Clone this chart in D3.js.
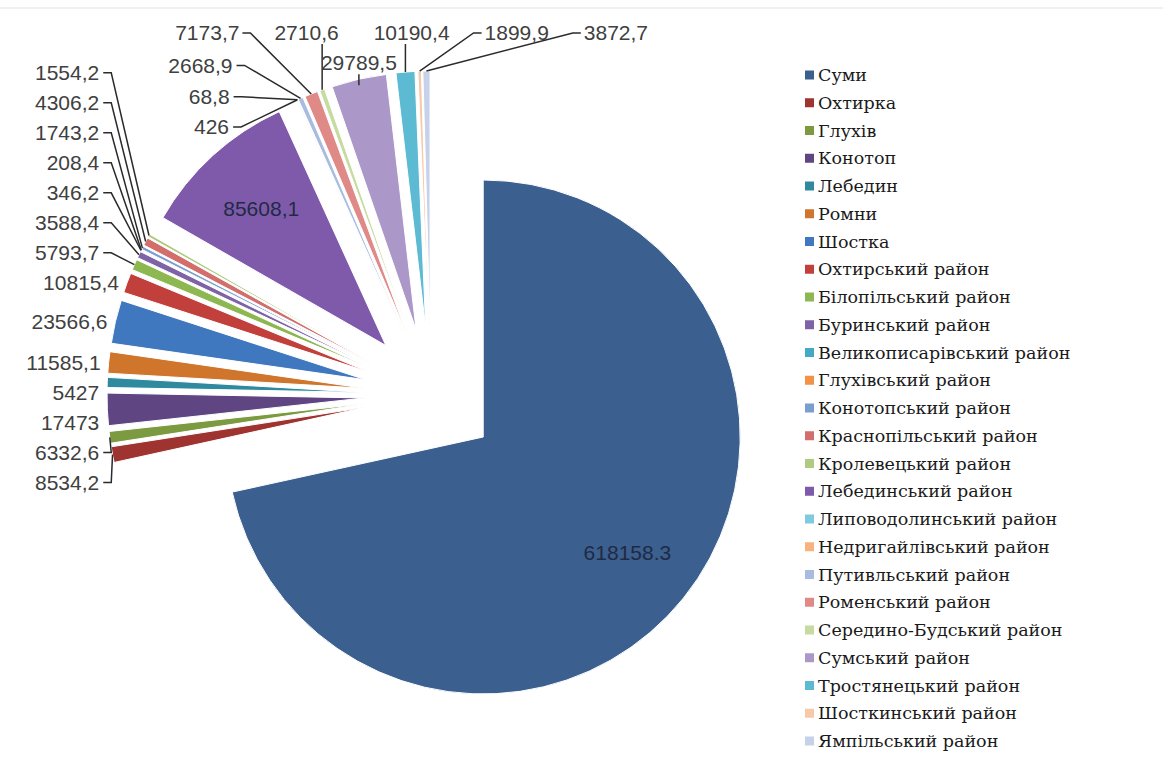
<!DOCTYPE html>
<html>
<head>
<meta charset="utf-8">
<script src="https://cdn.jsdelivr.net/npm/d3@7"></script>
<style>
  html, body { margin: 0; padding: 0; background: #fff; }
  svg { display: block; }
</style>
</head>
<body>
<div id="chart"></div>
<script>
/* global d3 */

const WIDTH = 1163
const HEIGHT = 780

// data
const categories = [
  'Суми', 'Охтирка', 'Глухів', 'Конотоп', 'Лебедин', 'Ромни', 'Шостка',
  'Охтирський район', 'Білопільський район', 'Буринський район',
  'Великописарівський район', 'Глухівський район', 'Конотопський район',
  'Краснопільський район', 'Кролевецький район', 'Лебединський район',
  'Липоводолинський район', 'Недригайлівський район', 'Путивльський район',
  'Роменський район', 'Середино-Будський район', 'Сумський район',
  'Тростянецький район', 'Шосткинський район', 'Ямпільський район'
]
const values = [
  618158.3, 8534.2, 6332.6, 17473, 5427, 11585.1, 23566.6,
  10815.4, 5793.7, 3588.4, 346.2, 208.4, 1743.2,
  4306.2, 1554.2, 85608.1,
  426, 68.8, 2668.9,
  7173.7, 2710.6, 29789.5,
  10190.4, 1899.9, 3872.7
]
const valueLabels = [
  '618158.3', '8534,2', '6332,6', '17473', '5427', '11585,1', '23566,6',
  '10815,4', '5793,7', '3588,4', '346,2', '208,4', '1743,2',
  '4306,2', '1554,2', '85608,1',
  '426', '68,8', '2668,9',
  '7173,7', '2710,6', '29789,5',
  '10190,4', '1899,9', '3872,7'
]

const colors = [
  '#3b5f8e', '#9e3330', '#7c9a3f', '#5f4683', '#2f8aa0', '#d0752c', '#3f78be',
  '#c1403c', '#8db851', '#7e63a6', '#44a9c4', '#f39147', '#7b9dd0',
  '#d26f6c', '#aecb80', '#7f5aab', '#7ecadf', '#f9b27d', '#a8bcdf',
  '#e08a88', '#c5dba0', '#ac98c8', '#5dbad3', '#f8c9a8', '#c6d2ea'
]

// layout
const CX = 431
const CY = 395
const R = 257
const EXPLODE = 67
const STEP = 30 // vertical step between stacked labels
const LEFT_UNTIL = 300 * Math.PI / 180
const TOP_ROW_FROM = 337 * Math.PI / 180
const ROW_Y = 33
const GAP = 35
const LABEL_FONT = '"Liberation Sans", Arial, sans-serif'

const data = categories.map((name, i) => ({ name, value: values[i], label: valueLabels[i], i }))
const total = d3.sum(values)

const svg = d3.select('#chart')
  .append('svg')
  .attr('width', WIDTH)
  .attr('height', HEIGHT)

svg.append('rect')
  .attr('x', -2).attr('y', 8)
  .attr('width', WIDTH + 4).attr('height', HEIGHT)
  .attr('fill', 'none')
  .attr('stroke', '#e3e3e3')

const color = d3.scaleOrdinal().domain(categories).range(colors)

const pie = d3.pie().sort(null).value((d) => d.value)
const arc = d3.arc().innerRadius(0).outerRadius(R)
const arcs = pie(data)

arcs.forEach((a) => {
  a.mid = (a.startAngle + a.endAngle) / 2
  a.ox = CX + EXPLODE * Math.sin(a.mid)
  a.oy = CY - EXPLODE * Math.cos(a.mid)
  a.px = a.ox + R * Math.sin(a.mid)
  a.py = a.oy - R * Math.cos(a.mid)
  const y0 = a.oy - R * Math.cos(a.startAngle)
  const y1 = a.oy - R * Math.cos(a.endAngle)
  a.yMin = Math.min(y0, y1)
  a.yMax = Math.max(y0, y1)
  if (a.value / total > 0.05) a.group = 'inside'
  else if (a.mid < LEFT_UNTIL) a.group = 'left'
  else if (a.mid < TOP_ROW_FROM) a.group = 'stack'
  else a.group = 'top'
})

// slices
svg.append('g')
  .selectAll('path')
  .data(arcs)
  .join('path')
  .attr('transform', (d) => `translate(${d.ox},${d.oy})`)
  .attr('d', arc)
  .attr('fill', (d) => color(d.data.name))
  .attr('stroke', '#fff')
  .attr('stroke-width', 1)

const leaders = svg.append('g')
  .attr('fill', 'none')
  .attr('stroke', '#2b2b2b')
  .attr('stroke-width', 1.5)

const labels = svg.append('g')
  .style('font-family', LABEL_FONT)
  .style('font-size', '21px')

const line = d3.line()

// labels inside the big slices
arcs.filter((a) => a.group === 'inside').forEach((a) => {
  labels.append('text')
    .attr('x', a.ox + 0.72 * R * Math.sin(a.mid))
    .attr('y', a.oy - 0.72 * R * Math.cos(a.mid))
    .attr('dy', '0.35em')
    .attr('text-anchor', 'middle')
    .attr('fill', '#1f2a44')
    .text(a.data.label)
})

// left column: keep the biggest at its place, stack the others up and down
const leftArcs = arcs.filter((a) => a.group === 'left')
const anchor = d3.maxIndex(leftArcs, (a) => a.value)
leftArcs[anchor].ly = leftArcs[anchor].py
for (let i = anchor + 1; i < leftArcs.length; i++) leftArcs[i].ly = Math.min(leftArcs[i].py, leftArcs[i - 1].ly - STEP)
for (let i = anchor - 1; i >= 0; i--) leftArcs[i].ly = Math.max(leftArcs[i].py, leftArcs[i + 1].ly + STEP)
const colX = d3.min(leftArcs, (a) => a.px) - 8

leftArcs.forEach((a) => {
  const onSlice = a.ly >= a.yMin - 6 && a.ly <= a.yMax + 6
  a.lx = onSlice ? a.px - 8 : colX
  labels.append('text')
    .attr('x', a.lx)
    .attr('y', a.ly)
    .attr('dy', '0.35em')
    .attr('text-anchor', 'end')
    .attr('fill', '#404040')
    .text(a.data.label)
  if (!onSlice) {
    leaders.append('path')
      .attr('d', line([[a.lx + 4, a.ly], [a.lx + 12, a.ly], [a.px, a.py]]))
  }
})

// small slices right after the big purple one: stacked up to the left
arcs.filter((a) => a.group === 'stack').forEach((a, i) => {
  a.lx = a.px - 68
  a.ly = a.py + 27 - STEP * i
  labels.append('text')
    .attr('x', a.lx)
    .attr('y', a.ly)
    .attr('dy', '0.35em')
    .attr('text-anchor', 'end')
    .attr('fill', '#404040')
    .text(a.data.label)
  leaders.append('path')
    .attr('d', line([[a.lx + 4, a.ly], [a.lx + 12, a.ly], [a.px, a.py]]))
})

// top: biggest stays above its slice, the rest go in one row
const topArcs = arcs.filter((a) => a.group === 'top')
const topMain = topArcs[d3.maxIndex(topArcs, (a) => a.value)]
labels.append('text')
  .attr('x', topMain.px)
  .attr('y', topMain.py - 16)
  .attr('dy', '0.35em')
  .attr('text-anchor', 'middle')
  .attr('fill', '#404040')
  .text(topMain.data.label)
leaders.append('path')
  .attr('d', line([[topMain.px, topMain.py - 5], [topMain.px, topMain.py + 6]]))

const row = topArcs.filter((a) => a !== topMain)
row.forEach((a) => {
  a.node = labels.append('text')
    .attr('y', ROW_Y)
    .attr('dy', '0.35em')
    .attr('text-anchor', 'middle')
    .attr('fill', '#404040')
    .text(a.data.label)
  a.w = a.node.node().getComputedTextLength()
})
row.forEach((a, i) => {
  a.lx = i === 0 ? a.px : Math.max(a.px, row[i - 1].lx + row[i - 1].w / 2 + GAP + a.w / 2)
})
// pull the row most of the way back towards the slices it belongs to
const shift = (d3.mean(row, (a) => a.px) - d3.mean(row, (a) => a.lx)) * 0.75
row.forEach((a) => {
  a.lx += shift
  a.node.attr('x', a.lx)
  const half = a.w / 2
  let pts
  if (Math.abs(a.px - a.lx) < half - 4) {
    pts = [[a.px, ROW_Y + 11], [a.px, a.py]]
  } else if (a.px > a.lx) {
    pts = [[a.lx + half + 3, ROW_Y], [a.lx + half + 11, ROW_Y], [a.px, a.py]]
  } else {
    pts = [[a.lx - half - 3, ROW_Y], [a.lx - half - 11, ROW_Y], [a.px, a.py]]
  }
  leaders.append('path').attr('d', line(pts))
})

// legend
const legendY = d3.scalePoint().domain(categories).range([75, 741])
const legend = svg.append('g')
  .selectAll('g')
  .data(categories)
  .join('g')
  .attr('transform', (d) => `translate(805,${legendY(d)})`)

legend.append('rect')
  .attr('x', 0)
  .attr('y', -4.5)
  .attr('width', 9)
  .attr('height', 9)
  .attr('fill', (d) => color(d))

legend.append('text')
  .attr('x', 13)
  .attr('dy', '0.35em')
  .style('font-family', '"DejaVu Serif", "Liberation Serif", serif')
  .style('font-size', '17.5px')
  .attr('fill', '#1a1a1a')
  .text((d) => d)
</script>
</body>
</html>
